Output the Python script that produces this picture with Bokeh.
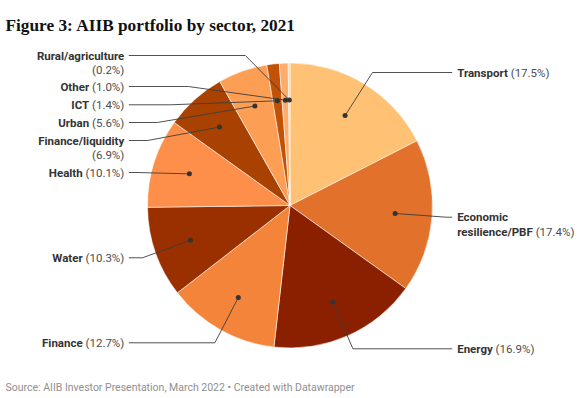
import math, os, glob, subprocess
from bokeh.plotting import figure
from bokeh.models import Range1d
from bokeh.core.properties import value
from bokeh.embed import file_html
from bokeh.resources import INLINE

# ---------------- data ----------------
sectors = ["Transport", "Economic resilience/PBF", "Energy", "Finance", "Water",
           "Health", "Finance/liquidity", "Urban", "ICT", "Other", "Rural/agriculture"]
shares = [17.5, 17.4, 16.9, 12.7, 10.3, 10.1, 6.9, 5.6, 1.4, 1.0, 0.2]
colors = ["#ffc173", "#e1712b", "#8a2000", "#f5843b", "#9a3000", "#fd8f4a",
          "#a94200", "#fd9e55", "#c05105", "#fdad69", "#fdd2a4"]

title = "Figure 3: AIIB portfolio by sector, 2021"
footer = "Source: AIIB Investor Presentation, March 2022 \u2022 Created with Datawrapper"

# ---------------- layout ----------------
W, H = 580, 398
OFF = 0
def X(ix): return ix - OFF
def Y(iy): return H - (iy - OFF)

CX, CY, R = X(289.5), Y(205), 142.5
R_DOT = 0.74 * R
R_BREAK = 156.5
FS = 11.5
LINE_H = 14.5
XL_TEXT, XL_LINE = X(123.8), X(128.3)
XR_TEXT, XR_LINE = X(456.7), X(451.7)

# side and image-y of first label line, plus how each label wraps
label_side = ["R", "R", "R", "L", "L", "L", "L", "L", "L", "L", "L"]
label_y = [72, 216.7, 348.3, 342.3, 257.3, 172, 140, 122, 104.3, 86, 55]
name_wrap = {"Economic resilience/PBF": ["Economic", "resilience/PBF"]}
pct_newline = {"Finance/liquidity", "Rural/agriculture"}

# ---------------- text measuring ----------------
def find_font(pattern, files):
    for f in files:
        for root in ["/usr/share/fonts", "/usr/local/share/fonts", os.path.expanduser("~/.fonts"),
                     os.path.expanduser("~/.local/share/fonts")]:
            hits = glob.glob(os.path.join(root, "**", f), recursive=True)
            if hits:
                return hits[0]
    try:
        out = subprocess.run(["fc-match", "-f", "%{file}", pattern], capture_output=True,
                             text=True, timeout=5).stdout.strip()
        if out and os.path.exists(out):
            return out
    except Exception:
        pass
    return None

_fonts = {}
def get_font(bold):
    if bold in _fonts:
        return _fonts[bold]
    f = None
    try:
        from PIL import ImageFont
        path = find_font("Roboto:bold" if bold else "Roboto",
                         ["Roboto-Bold.ttf"] if bold else ["Roboto-Regular.ttf"])
        if path is None:
            path = find_font("Roboto", ["Roboto*.ttf"])
        if path:
            f = ImageFont.truetype(path, 100)
            if bold and "Bold" not in os.path.basename(path):
                try:
                    f.set_variation_by_name("Bold")
                except Exception:
                    pass
    except Exception:
        f = None
    _fonts[bold] = f
    return f

def text_w(s, bold=False, size=FS):
    f = get_font(bold)
    if f is not None:
        try:
            return f.getlength(s) * size / 100.0
        except Exception:
            pass
    return len(s) * size * (0.56 if bold else 0.52)

# ---------------- figure ----------------
p = figure(width=W, height=H, output_backend="svg", toolbar_location=None,
           x_range=Range1d(0, W), y_range=Range1d(0, H), min_border=0)
p.axis.visible = False
p.grid.visible = False
p.outline_line_color = None
p.background_fill_color = "white"
p.border_fill_color = "white"

total = sum(shares)
starts, ends, mids = [], [], []
acc = 0.0
for s in shares:
    a0 = math.pi / 2 - 2 * math.pi * acc / total
    acc += s
    a1 = math.pi / 2 - 2 * math.pi * acc / total
    starts.append(a0); ends.append(a1); mids.append((a0 + a1) / 2)

p.wedge(x=CX, y=CY, radius=R, radius_units="screen",
        start_angle=starts, end_angle=ends, direction="clock",
        fill_color=colors, line_color="white", line_width=0.7, line_alpha=0.8)

# leader lines, dots and labels
dot_x, dot_y, lxs, lys = [], [], [], []
b_x, b_y, b_t, b_al = [], [], [], []
r_x, r_y, r_t, r_al = [], [], [], []
for name, s, side, ly, m in zip(sectors, shares, label_side, label_y, mids):
    dx_, dy_ = CX + R_DOT * math.cos(m), CY + R_DOT * math.sin(m)
    dot_x.append(dx_); dot_y.append(dy_)
    yl = Y(ly)
    dy = yl - CY
    half = math.sqrt(max(R_BREAK ** 2 - dy ** 2, 0))
    pct = "(%.1f%%)" % s
    lines = name_wrap.get(name, [name])
    if name in pct_newline:
        rows = [(ln, "") for ln in lines] + [("", pct)]
    else:
        rows = [(ln, "") for ln in lines[:-1]] + [(lines[-1], pct)]
    if side == "L":
        bx = min(max(CX - half, XL_LINE), dx_)
        lxs.append([XL_LINE, bx, dx_]); lys.append([yl, yl, dy_])
        for i, (nm, pc) in enumerate(rows):
            yy = yl - i * LINE_H
            if pc:
                r_x.append(XL_TEXT); r_y.append(yy); r_t.append(pc); r_al.append("right")
            if nm:
                shift = (text_w(pc) + text_w(" ")) if pc else 0
                b_x.append(XL_TEXT - shift); b_y.append(yy); b_t.append(nm); b_al.append("right")
    else:
        bx = max(min(CX + half, XR_LINE), dx_)
        lxs.append([XR_LINE, bx, dx_]); lys.append([yl, yl, dy_])
        for i, (nm, pc) in enumerate(rows):
            yy = yl - i * LINE_H
            if nm:
                b_x.append(XR_TEXT); b_y.append(yy); b_t.append(nm); b_al.append("left")
            if pc:
                shift = (text_w(nm, True) + text_w(" ")) if nm else 0
                r_x.append(XR_TEXT + shift); r_y.append(yy); r_t.append(pc); r_al.append("left")

p.multi_line(xs=lxs, ys=lys, line_color="#3d3d3d", line_width=0.9)
p.scatter(x=dot_x, y=dot_y, size=5, fill_color="#333333", line_color=None)

p.text(x=b_x, y=b_y, text=b_t, text_align=b_al, text_baseline="middle",
       text_font=value("Roboto"), text_font_style="bold", text_font_size="%gpx" % FS,
       text_color="#333333")
p.text(x=r_x, y=r_y, text=r_t, text_align=r_al, text_baseline="middle",
       text_font=value("Roboto"), text_font_size="%gpx" % FS, text_color="#4d4d4d")

# title and footer
p.text(x=[X(5)], y=[Y(25)], text=[title], text_align="left", text_baseline="alphabetic",
       text_font=value("Liberation Serif"), text_font_style="bold", text_font_size="17.3px",
       text_color="#111111")
p.text(x=[X(5)], y=[Y(386.5)], text=[footer], text_align="left", text_baseline="middle",
       text_font=value("Roboto"), text_font_size="10.5px", text_color="#8f8f8f")

open("out.html", "w").write(file_html(p, INLINE))
